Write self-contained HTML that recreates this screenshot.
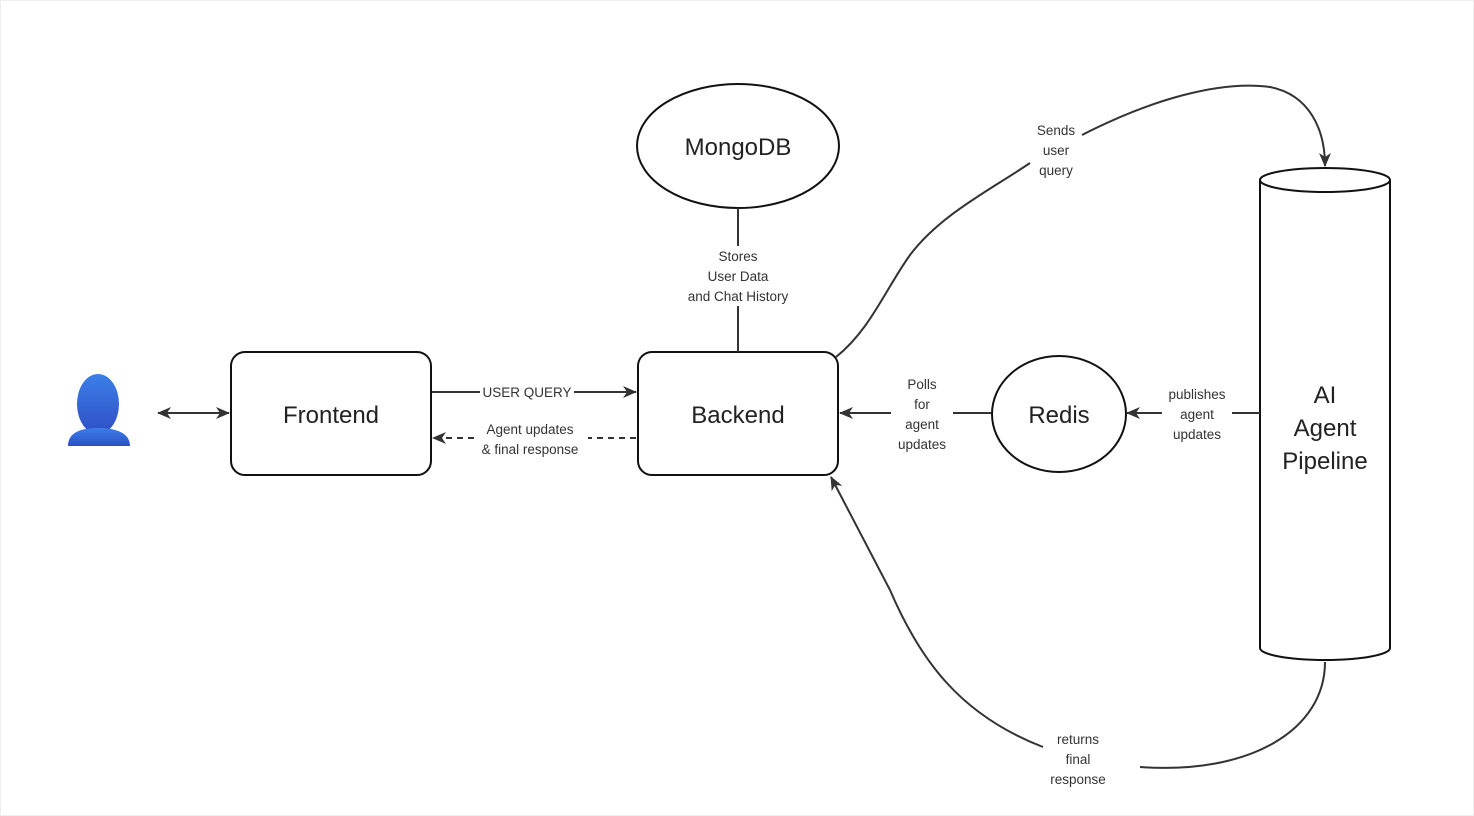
<!DOCTYPE html>
<html><head><meta charset="utf-8"><style>
html,body{margin:0;padding:0;background:#fff;}
svg{display:block;}
text{font-family:"Liberation Sans","DejaVu Sans",sans-serif;fill:#222;}
.l{font-size:13.5px;text-anchor:middle;fill:#333;}
.n{font-size:24px;text-anchor:middle;}
</style></head><body>
<svg width="1474" height="816" viewBox="0 0 1474 816" xmlns="http://www.w3.org/2000/svg">
<defs>
<marker id="a" markerWidth="14" markerHeight="14" refX="13" refY="7" orient="auto" markerUnits="userSpaceOnUse"><path d="M0,1 L14,7 L0,13 L4,7 z" fill="#333"/></marker>
<marker id="as" markerWidth="14" markerHeight="14" refX="1" refY="7" orient="auto" markerUnits="userSpaceOnUse"><path d="M14,1 L0,7 L14,13 L10,7 z" fill="#333"/></marker>
<linearGradient id="g" x1="0" y1="0" x2="0" y2="1"><stop offset="0" stop-color="#3b7fe8"/><stop offset="1" stop-color="#2f4fc4"/></linearGradient>
</defs>
<rect x="0.5" y="0.5" width="1473" height="815" fill="#fff" stroke="#eee"/>
<!-- person -->
<ellipse cx="98" cy="404" rx="21" ry="30" fill="url(#g)"/>
<path d="M68,446 C68,434 78,428 98,428 C118,428 130,434 130,446 Z" fill="url(#g)"/>
<!-- nodes -->
<g fill="#fff" stroke="#111" stroke-width="2">
<rect x="231" y="352" width="200" height="123" rx="14"/>
<rect x="638" y="352" width="200" height="123" rx="14"/>
<ellipse cx="738" cy="146" rx="101" ry="62"/>
<ellipse cx="1059" cy="414" rx="67" ry="58"/>
<path d="M1260,180 L1260,648 A65,12 0 0 0 1390,648 L1390,180"/>
<ellipse cx="1325" cy="180" rx="65" ry="12"/>
</g>
<text class="n" x="331" y="423">Frontend</text>
<text class="n" x="738" y="423">Backend</text>
<text class="n" x="738" y="155">MongoDB</text>
<text class="n" x="1059" y="423">Redis</text>
<text class="n" x="1325" y="403">AI</text>
<text class="n" x="1325" y="436">Agent</text>
<text class="n" x="1325" y="469">Pipeline</text>
<!-- connectors -->
<g stroke="#333" stroke-width="2" fill="none">
<line x1="158" y1="413" x2="229" y2="413" marker-start="url(#as)" marker-end="url(#a)"/>
<line x1="432" y1="392" x2="480" y2="392"/>
<line x1="574" y1="392" x2="636" y2="392" marker-end="url(#a)"/>
<line x1="636" y1="438" x2="588" y2="438" stroke-dasharray="6,5"/>
<line x1="474" y1="438" x2="433" y2="438" stroke-dasharray="6,5" marker-end="url(#a)"/>
<line x1="738" y1="208" x2="738" y2="246"/>
<line x1="738" y1="306" x2="738" y2="352"/>
<line x1="991" y1="413" x2="953" y2="413"/>
<line x1="891" y1="413" x2="840" y2="413" marker-end="url(#a)"/>
<line x1="1260" y1="413" x2="1232" y2="413"/>
<line x1="1162" y1="413" x2="1127" y2="413" marker-end="url(#a)"/>
<path d="M836,357 C870,330 885,290 910,255 C940,215 990,190 1030,163"/>
<path d="M1082,135 C1150,100 1220,80 1270,87 C1310,95 1325,130 1325,166" marker-end="url(#a)"/>
<path d="M1325,662 C1325,730 1250,775 1140,767"/>
<path d="M1043,747 C960,715 920,660 890,590 L831,477" marker-end="url(#a)"/>
</g>
<text class="l" x="527" y="397">USER QUERY</text>
<text class="l" x="530" y="434">Agent updates</text>
<text class="l" x="530" y="454">&amp; final response</text>
<text class="l" x="738" y="261">Stores</text>
<text class="l" x="738" y="281">User Data</text>
<text class="l" x="738" y="301">and Chat History</text>
<text class="l" x="922" y="389">Polls</text>
<text class="l" x="922" y="409">for</text>
<text class="l" x="922" y="429">agent</text>
<text class="l" x="922" y="449">updates</text>
<text class="l" x="1197" y="399">publishes</text>
<text class="l" x="1197" y="419">agent</text>
<text class="l" x="1197" y="439">updates</text>
<text class="l" x="1056" y="135">Sends</text>
<text class="l" x="1056" y="155">user</text>
<text class="l" x="1056" y="175">query</text>
<text class="l" x="1078" y="744">returns</text>
<text class="l" x="1078" y="764">final</text>
<text class="l" x="1078" y="784">response</text>
</svg>
</body></html>
